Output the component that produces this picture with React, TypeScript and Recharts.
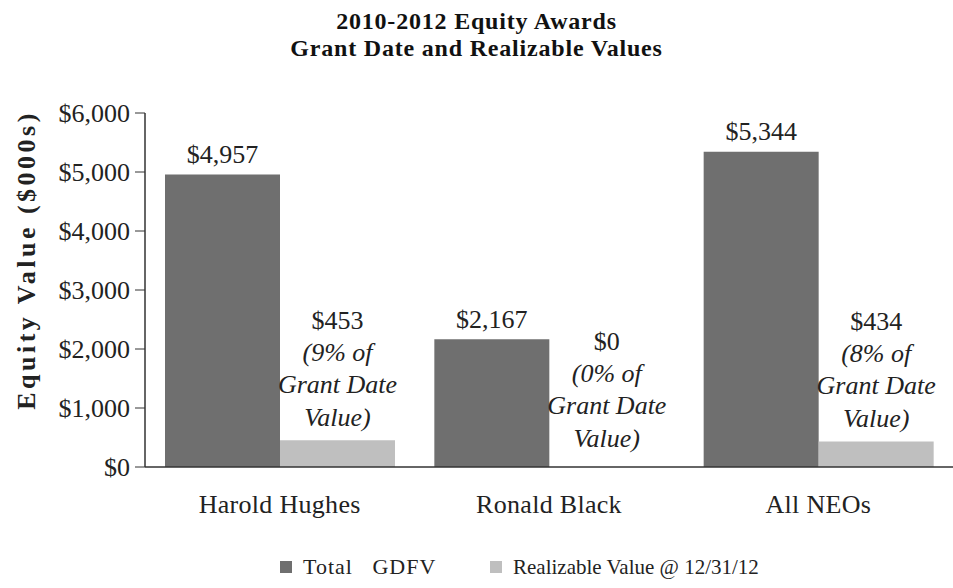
import { BarChart, Bar, XAxis, YAxis, LabelList } from "recharts";

const categories = ["Harold Hughes", "Ronald Black", "All NEOs"];
const totalGdfv = [4957, 2167, 5344];
const realizable = [453, 0, 434];
const pctOfGrant = ["9%", "0%", "8%"];
const yTicks = [0, 1000, 2000, 3000, 4000, 5000, 6000];

const data = categories.map((name, i) => ({
  name,
  total: totalGdfv[i],
  realizable: realizable[i],
}));

const FONT = "'Liberation Serif', 'Times New Roman', serif";
const DARK = "#6f6f6f";
const LIGHT = "#bfbfbf";
const INK = "#222";

const money = (v: number) => "$" + v.toLocaleString("en-US");

// labels for both bars of a category, drawn from the dark bar's geometry
// (a zero-height bar gets no label of its own)
function PairLabel(props: any) {
  const { x, y, width, height, index } = props;
  const total = totalGdfv[index];
  const real = realizable[index];
  const base = y + height;
  const lightTop = base - (total ? (real * height) / total : 0);
  const cx2 = x + width * 1.5;
  const off = lightTop - (real === 0 ? 29 : 23);
  const lines = [`(${pctOfGrant[index]} of`, "Grant Date", "Value)"];
  return (
    <g fontFamily={FONT} fontSize={26} fill={INK} textAnchor="middle">
      <text x={x + width / 2} y={y - 20} dominantBaseline="central">{money(total)}</text>
      <text x={cx2} y={off - 97} dominantBaseline="central">{money(real)}</text>
      {lines.map((l, k) => (
        <text key={k} x={cx2} y={off - 65 + k * 32.5} dominantBaseline="central" fontStyle="italic">{l}</text>
      ))}
    </g>
  );
}

function LegendBox() {
  const items = [
    { label: "Total   GDFV", color: DARK, left: 280, size: 22, spacing: 1 },
    { label: "Realizable Value @ 12/31/12", color: LIGHT, left: 490, size: 21, spacing: 0 },
  ];
  return (
    <>
      {items.map((it) => (
        <div key={it.label} style={{ position: "absolute", top: 554, left: it.left, display: "flex", alignItems: "center", whiteSpace: "pre", fontFamily: FONT, fontSize: it.size, letterSpacing: it.spacing, color: INK, lineHeight: "26px" }}>
          <span style={{ width: 12, height: 12, background: it.color, display: "inline-block", marginRight: 11 }} />
          {it.label}
        </div>
      ))}
    </>
  );
}

export default function App() {
  return (
    <div style={{ position: "absolute", left: 0, top: 0, width: 953, height: 588, background: "#fff" }}>
      <div style={{ position: "absolute", top: 8, left: 0, width: 953, textAlign: "center", fontFamily: FONT, fontWeight: "bold", fontSize: 24, letterSpacing: 0.8, lineHeight: "27px", color: "#111" }}>
        <div>2010-2012 Equity Awards</div>
        <div>Grant Date and Realizable Values</div>
      </div>
      <BarChart width={953} height={588} data={data} margin={{ top: 113, right: 0, left: 0, bottom: 61 }}
        barCategoryGap={20} barGap={0}>
        <XAxis dataKey="name" height={60} axisLine={{ stroke: "#333", strokeWidth: 1.5 }} tickLine={false}
          tick={{ fontFamily: FONT, fontSize: 26, fill: INK, letterSpacing: 0.3 }} tickMargin={22} />
        <YAxis width={145} domain={[0, 6000]} ticks={yTicks} tickFormatter={money}
          axisLine={{ stroke: "#333", strokeWidth: 1.5 }} tickLine={{ stroke: "#333" }} tickSize={10} tickMargin={5}
          tick={{ fontFamily: FONT, fontSize: 26, fill: INK }}
          label={() => (
            <text x={26} y={260} transform="rotate(-90 26 260)" textAnchor="middle" dominantBaseline="central"
              fontFamily={FONT} fontWeight="bold" fontSize={26} letterSpacing={3.5} fill={INK}>
              Equity Value ($000s)
            </text>
          )} />
        <Bar dataKey="total" fill={DARK} isAnimationActive={false}>
          <LabelList dataKey="total" content={PairLabel} />
        </Bar>
        <Bar dataKey="realizable" fill={LIGHT} isAnimationActive={false} />
      </BarChart>
      <LegendBox />
    </div>
  );
}
